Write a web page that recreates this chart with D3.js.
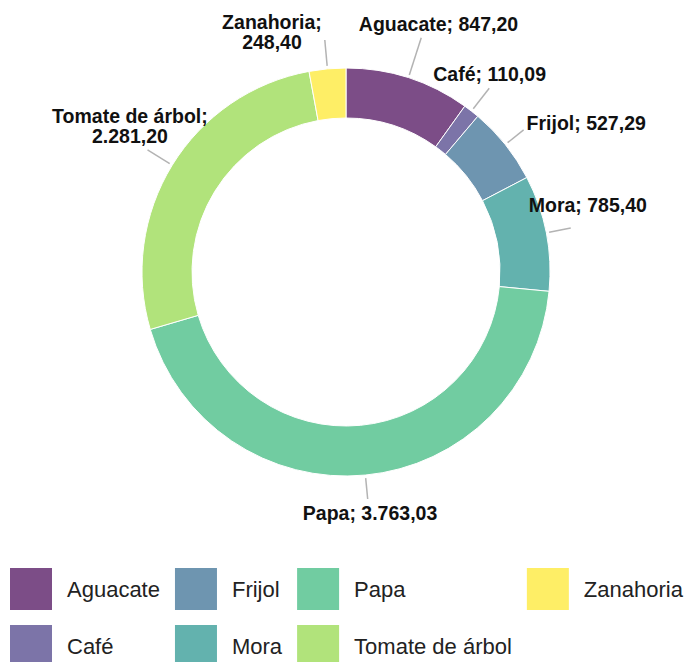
<!DOCTYPE html>
<html>
<head>
<meta charset="utf-8">
<script src="https://cdn.jsdelivr.net/npm/d3@7"></script>
<style>
body { margin: 0; background: #fff; }
text { font-family: "Liberation Sans", Arial, sans-serif; }
</style>
</head>
<body>
<script>
// datos
var cultivos = ["Aguacate", "Café", "Frijol", "Mora", "Papa", "Tomate de árbol", "Zanahoria"];
var valores = [847.20, 110.09, 527.29, 785.40, 3763.03, 2281.20, 248.40];
// labels that break after the ";"
var dosLineas = ["Tomate de árbol", "Zanahoria"];

// hand nudges for the outside labels so they clear each other
var ajuste = {
  "Aguacate": [18, -16], "Café": [-8, -3], "Frijol": [44, 8], "Mora": [-45, -11],
  "Papa": [1, -1], "Tomate de árbol": [18, -2], "Zanahoria": [-51, 12]
};

var width = 684, height = 662;
var cx = 346, cy = 272, rOuter = 204, rInner = 154;

var fmt = d3.formatLocale({decimal: ",", thousands: ".", grouping: [3], currency: ["$", ""]}).format(",.2f");

var color = d3.scaleOrdinal()
  .domain(cultivos)
  .range(d3.quantize(d3.interpolateViridis, cultivos.length));

var svg = d3.select("body").append("svg")
  .attr("width", width)
  .attr("height", height);

var g = svg.append("g").attr("transform", "translate(" + cx + "," + cy + ")");

var arcs = d3.pie().sort(null)(valores);
var arc = d3.arc().innerRadius(rInner).outerRadius(rOuter);

g.selectAll("path.slice").data(arcs).enter().append("path")
  .attr("class", "slice")
  .attr("d", arc)
  .attr("fill", function(d, i) { return color(cultivos[i]); })
  .attr("fill-opacity", 0.7)
  .attr("stroke", "#fff")
  .attr("stroke-width", 1);

// labels + leader lines
var leaders = g.append("g");
arcs.forEach(function(d, i) {
  var name = cultivos[i];
  var a = (d.startAngle + d.endAngle) / 2;
  var s = Math.sin(a), c = -Math.cos(a);
  var lines = dosLineas.indexOf(name) >= 0 ? [name + ";", fmt(valores[i])] : [name + "; " + fmt(valores[i])];

  var t = g.append("text")
    .attr("font-size", 19.5)
    .attr("font-weight", "bold")
    .attr("text-anchor", "middle")
    .attr("fill", "#111");
  lines.forEach(function(ln, k) {
    t.append("tspan").attr("x", 0).attr("dy", k ? 20 : 0).text(ln);
  });
  var bb = t.node().getBBox();
  var hw = bb.width / 2 + 3, hh = bb.height / 2 + 3;

  // push the box out from the anchor point until it just clears it
  var ax = s * 229, ay = c * 229;
  var k = Math.min(hw / Math.max(Math.abs(s), 1e-6), hh / Math.max(Math.abs(c), 1e-6));
  var nx = ax + s * k + ajuste[name][0], ny = ay + c * k + ajuste[name][1];
  t.attr("transform", "translate(" + (nx - (bb.x + bb.width / 2)) + "," + (ny - (bb.y + bb.height / 2)) + ")");

  // leader runs out radially until it meets the label box
  var rEnd = 229;
  for (var r = 207; r <= 262; r += 0.5) {
    var px = s * r, py = c * r;
    if (px >= nx - hw && px <= nx + hw && py >= ny - hh && py <= ny + hh) { rEnd = r; break; }
  }
  leaders.append("line")
    .attr("x1", s * 207).attr("y1", c * 207)
    .attr("x2", s * rEnd).attr("y2", c * rEnd)
    .attr("stroke", "#b3b3b3")
    .attr("stroke-width", 1.5);
});

// legend, column-major, 2 rows
var legend = svg.append("g");
var colX = 10, legTop = 568, rowH = 57, sw = 42;
for (var col = 0; col * 2 < cultivos.length; col++) {
  var maxW = 0;
  cultivos.slice(col * 2, col * 2 + 2).forEach(function(name, row) {
    var y = legTop + row * rowH;
    legend.append("rect")
      .attr("x", colX).attr("y", y)
      .attr("width", sw).attr("height", sw)
      .attr("fill", color(name))
      .attr("fill-opacity", 0.7);
    var tx = legend.append("text")
      .attr("x", colX + 57).attr("y", y + 29)
      .attr("font-size", 22)
      .attr("fill", "#222")
      .text(name);
    maxW = Math.max(maxW, tx.node().getComputedTextLength());
  });
  colX += 57 + maxW + 15;
}
</script>
</body>
</html>
